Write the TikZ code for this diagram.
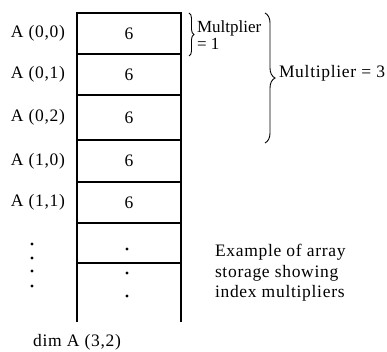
\documentclass[tikz,border=0pt]{standalone}
\usepackage{fontspec}
\setmainfont[LetterSpace=4]{Liberation Serif}
\newfontfamily\tightserif{Liberation Serif}
\usetikzlibrary{decorations.pathreplacing}
\begin{document}
\begin{tikzpicture}[x=1pt,y=-1pt,
 every node/.style={font=\fontsize{17.5}{20}\selectfont, inner sep=0pt, outer sep=0pt},
 cell/.style={draw,minimum width=104pt,anchor=north west,line width=1.1pt},
 lbl/.style={anchor=east},
 dotm/.style={circle,fill,inner sep=0pt,minimum size=3.2pt},
 brc/.style={decorate,decoration={brace,amplitude=#1},line width=0.9pt},
 edge/.style={line width=1.1pt}
]
\useasboundingbox (0,0) rectangle (387,352);
\node[cell,minimum height=41pt] (c0) at (77,13) {6};
\node[cell,minimum height=41pt] (c1) at (c0.south west) {6};
\node[cell,minimum height=45pt] (c2) at (c1.south west) {6};
\node[cell,minimum height=42pt] (c3) at (c2.south west) {6};
\node[cell,minimum height=41pt] (c4) at (c3.south west) {6};
\node[cell,minimum height=40pt] (c5) at (c4.south west) {};
\coordinate (bl) at (77,322);
\coordinate (br) at (181,322);
\draw[edge] (c5.south west) -- (bl);
\draw[edge] (c5.south east) -- (br);
\node[lbl] (a0) at ([xshift=-12pt]c0.west) {A (0,0)};
\node[lbl] (a1) at ([xshift=-12pt]c1.west) {A (0,1)};
\node[lbl] (a2) at ([xshift=-12pt]c2.west) {A (0,2)};
\node[lbl] (a3) at ([xshift=-12pt]c3.west) {A (1,0)};
\node[lbl] (a4) at ([xshift=-12pt]c4.west) {A (1,1)};
\node[dotm] (l1) at (32,244) {};
\node[dotm] (l2) at (32,258) {};
\node[dotm] (l3) at (32,271) {};
\node[dotm] (l4) at (32,286) {};
\node[dotm] (m1) at (127,249) {};
\node[dotm] (m2) at (127,273) {};
\node[dotm] (m3) at (127,296) {};
\draw[brc=5pt] (189,13) -- (189,56);
\node[anchor=west,align=left,font=\tightserif\fontsize{17}{17}\selectfont] (t1) at (197,35) {Multplier\\= 1};
\draw[brc=10pt] (265,13) -- (265,143);
\node[anchor=west] (t3) at (279,73) {Multiplier = 3};
\node[anchor=west,align=left,font=\fontsize{17.5}{20.5}\selectfont] (ex) at (215,273) {Example of array\\storage showing\\index multipliers};
\node (dim) at (77,342) {dim A (3,2)};
\end{tikzpicture}
\end{document}
